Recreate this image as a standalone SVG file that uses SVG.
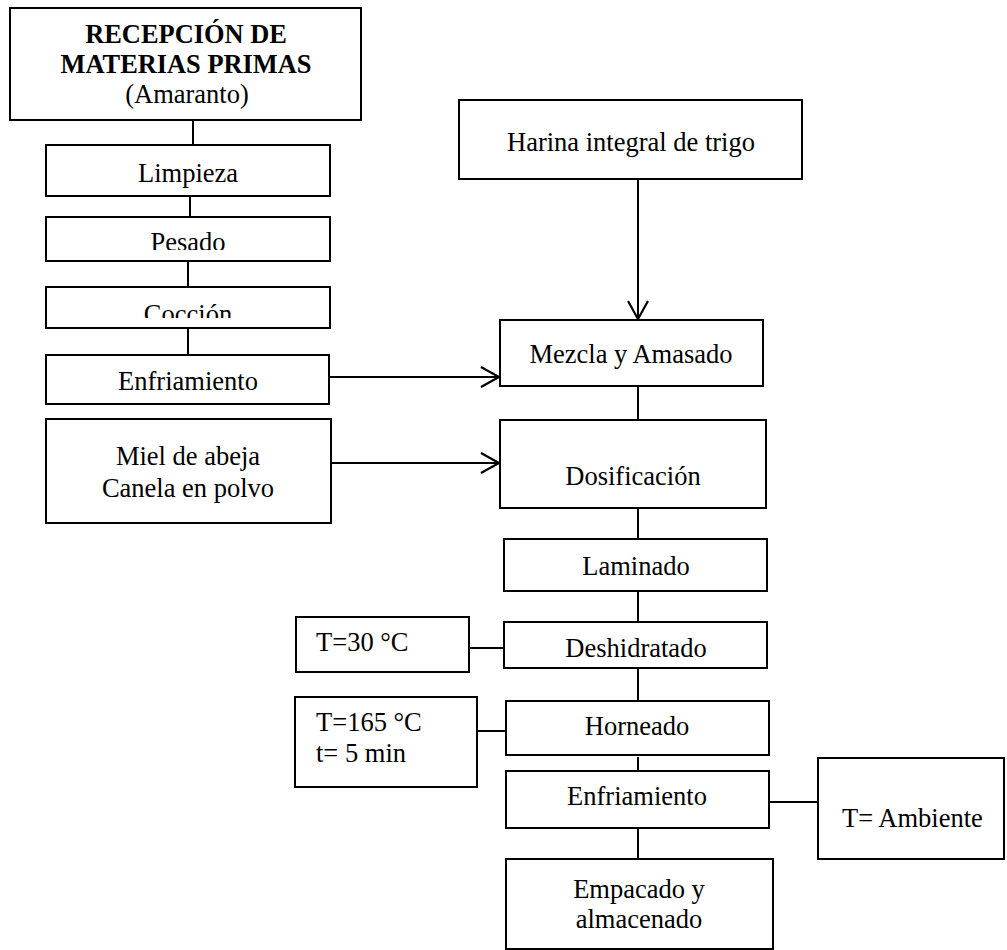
<svg xmlns="http://www.w3.org/2000/svg" width="1007" height="950" viewBox="0 0 1007 950">
<style>
.box{fill:#fff;stroke:#000;stroke-width:2}
.ln{fill:none;stroke:#000;stroke-width:2}
text{font-family:"Liberation Serif","Times New Roman",serif;font-size:26.5px;fill:#000}
.c{text-anchor:middle}
.b{font-weight:bold;font-size:26.4px}
</style>
<defs>
<marker id="arr" markerUnits="userSpaceOnUse" markerWidth="24" markerHeight="26" refX="19" refY="11" orient="auto">
<path d="M1,1 L19,11 L1,21" fill="none" stroke="#000" stroke-width="2.2"/>
</marker>
<clipPath id="clipPes"><rect x="46" y="217" width="284" height="33"/></clipPath>
<clipPath id="clipCoc"><rect x="46" y="287" width="284" height="31"/></clipPath>
</defs>
<rect width="1007" height="950" fill="#fff"/>
<g id="connectors">
<line class="ln" x1="193" y1="120" x2="193" y2="145"/>
<line class="ln" x1="190" y1="196" x2="190" y2="217"/>
<line class="ln" x1="188" y1="261" x2="188" y2="287"/>
<line class="ln" x1="188" y1="328" x2="188" y2="355"/>
<line class="ln" x1="330" y1="377" x2="499" y2="377" marker-end="url(#arr)"/>
<line class="ln" x1="331" y1="463" x2="499" y2="463" marker-end="url(#arr)"/>
<line class="ln" x1="638" y1="179" x2="638" y2="319" marker-end="url(#arr)"/>
<line class="ln" x1="638" y1="386" x2="638" y2="420"/>
<line class="ln" x1="638" y1="508" x2="638" y2="539"/>
<line class="ln" x1="638" y1="591" x2="638" y2="622"/>
<line class="ln" x1="469" y1="648" x2="504" y2="648"/>
<line class="ln" x1="638" y1="668" x2="638" y2="701"/>
<line class="ln" x1="477" y1="731" x2="506" y2="731"/>
<line class="ln" x1="638" y1="757" x2="638" y2="771"/>
<line class="ln" x1="769" y1="802" x2="818" y2="802"/>
<line class="ln" x1="638" y1="828" x2="638" y2="859"/>
</g>
<g id="recepcion">
<rect class="box" x="10" y="8" width="351" height="112"/>
<text class="c b" x="186" y="43">RECEPCIÓN DE</text>
<text class="c b" x="186" y="73">MATERIAS PRIMAS</text>
<text class="c" x="187" y="103">(Amaranto)</text>
</g>
<g id="limpieza">
<rect class="box" x="46" y="145" width="284" height="51"/>
<text class="c" x="188" y="182">Limpieza</text>
</g>
<g id="pesado">
<rect class="box" x="46" y="217" width="284" height="44"/>
<text class="c" x="188" y="251" clip-path="url(#clipPes)">Pesado</text>
</g>
<g id="coccion">
<rect class="box" x="46" y="287" width="284" height="41"/>
<text class="c" x="188" y="323" clip-path="url(#clipCoc)">Cocción</text>
</g>
<g id="enfriamiento1">
<rect class="box" x="46" y="355" width="283" height="49"/>
<text class="c" x="188" y="390">Enfriamiento</text>
</g>
<g id="miel">
<rect class="box" x="46" y="419" width="285" height="104"/>
<text class="c" x="188" y="465">Miel de abeja</text>
<text class="c" x="188" y="497">Canela en polvo</text>
</g>
<g id="harina">
<rect class="box" x="459" y="100" width="343" height="79"/>
<text class="c" x="631" y="151">Harina integral de trigo</text>
</g>
<g id="mezcla">
<rect class="box" x="500" y="320" width="263" height="66"/>
<text class="c" x="631" y="363">Mezcla y Amasado</text>
</g>
<g id="dosificacion">
<rect class="box" x="500" y="420" width="266" height="88"/>
<text class="c" x="633" y="485">Dosificación</text>
</g>
<g id="laminado">
<rect class="box" x="504" y="539" width="263" height="52"/>
<text class="c" x="636" y="575">Laminado</text>
</g>
<g id="deshidratado">
<rect class="box" x="504" y="622" width="263" height="46"/>
<text class="c" x="636" y="657">Deshidratado</text>
</g>
<g id="t30">
<rect class="box" x="296" y="617" width="173" height="55"/>
<text x="316" y="651">T=30 °C</text>
</g>
<g id="horneado">
<rect class="box" x="506" y="701" width="263" height="54"/>
<text class="c" x="637" y="735">Horneado</text>
</g>
<g id="t165">
<rect class="box" x="295" y="697" width="182" height="90"/>
<text x="316" y="731">T=165 °C</text>
<text x="316" y="762">t= 5 min</text>
</g>
<g id="enfriamiento2">
<rect class="box" x="506" y="771" width="263" height="57"/>
<text class="c" x="637" y="805">Enfriamiento</text>
</g>
<g id="tambiente">
<rect class="box" x="818" y="758" width="186" height="101"/>
<text x="842" y="827">T= Ambiente</text>
</g>
<g id="empacado">
<rect class="box" x="506" y="859" width="267" height="90"/>
<text class="c" x="639" y="898">Empacado y</text>
<text class="c" x="639" y="928">almacenado</text>
</g>
</svg>
